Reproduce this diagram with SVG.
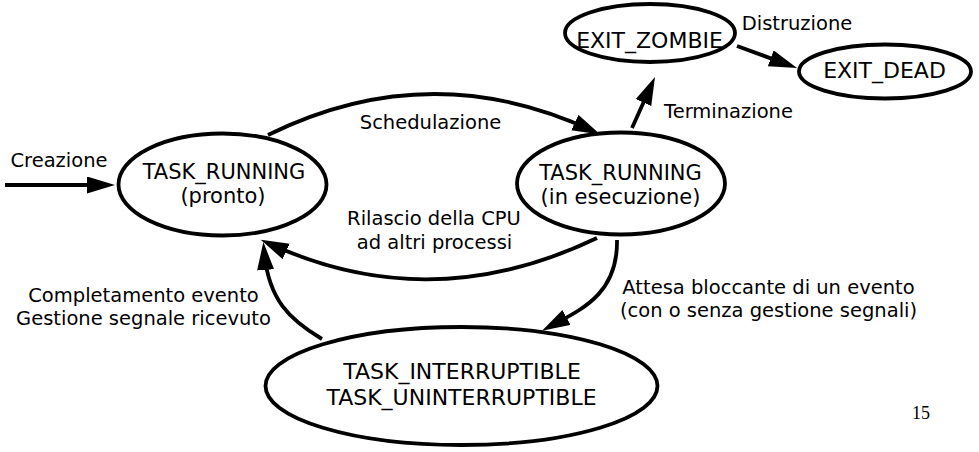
<svg xmlns="http://www.w3.org/2000/svg" width="979" height="452" viewBox="0 0 979 452">
<defs>
<marker id="ah" markerUnits="userSpaceOnUse" markerWidth="32" markerHeight="20" refX="20" refY="8.5" orient="auto">
<path d="M0,0 L28,8.5 L0,17 z" fill="#000"/>
</marker>
<style>
.node ellipse{fill:#fff;stroke:#000;stroke-width:3.8}
.nt{font-family:"DejaVu Sans",sans-serif;font-size:21px;text-anchor:middle;fill:#000}
.n1{font-size:22px}
.lb{font-family:"DejaVu Sans",sans-serif;font-size:19.5px;text-anchor:middle;fill:#000}
.edge{fill:none;stroke:#000;stroke-width:3.8;marker-end:url(#ah)}
</style>
</defs>
<rect width="979" height="452" fill="#fff"/>
<g id="connectors">
<path class="edge" d="M5,185 L107,185"/>
<path class="edge" d="M268,135 Q430,55 593,131"/>
<path class="edge" d="M597,238 Q430,318 268,243"/>
<path class="edge" d="M632,128 L651.7,84.3"/>
<path class="edge" d="M737,46 L789.5,65.2"/>
<path class="edge" d="M617,240 C618,295 580,310 549,327"/>
<path class="edge" d="M322,339 C290,320 268,300 264,250"/>
</g>
<g id="node-pronto" class="node">
<ellipse cx="222.5" cy="184.5" rx="104" ry="51"/>
<text class="nt" x="224" y="178.5">TASK_RUNNING</text>
<text class="nt" x="223" y="203">(pronto)</text>
</g>
<g id="node-esecuzione" class="node">
<ellipse cx="621" cy="183.5" rx="104" ry="51"/>
<text class="nt" x="620.5" y="179.5">TASK_RUNNING</text>
<text class="nt" x="620.5" y="204">(in esecuzione)</text>
</g>
<g id="node-zombie" class="node">
<ellipse cx="650" cy="33" rx="85" ry="29"/>
<text class="nt n1" x="649.5" y="48">EXIT_ZOMBIE</text>
</g>
<g id="node-dead" class="node">
<ellipse cx="885" cy="71.5" rx="86" ry="27"/>
<text class="nt n1" x="884.5" y="78">EXIT_DEAD</text>
</g>
<g id="node-blocked" class="node">
<ellipse cx="461.5" cy="386" rx="196" ry="59"/>
<text class="nt n1" x="462" y="379">TASK_INTERRUPTIBLE</text>
<text class="nt n1" x="461.5" y="405">TASK_UNINTERRUPTIBLE</text>
</g>
<g id="labels">
<text class="lb" x="59" y="167">Creazione</text>
<text class="lb" x="430.5" y="129">Schedulazione</text>
<text class="lb" x="728.5" y="118">Terminazione</text>
<text class="lb" x="797" y="30">Distruzione</text>
<text class="lb" x="434" y="225">Rilascio della CPU</text>
<text class="lb" x="434.5" y="249">ad altri processi</text>
<text class="lb" x="143.5" y="302">Completamento evento</text>
<text class="lb" x="143.5" y="325">Gestione segnale ricevuto</text>
<text class="lb" x="768.5" y="294">Attesa bloccante di un evento</text>
<text class="lb" x="768.5" y="317">(con o senza gestione segnali)</text>
<text x="921" y="419" font-family="'Liberation Serif',serif" font-size="18" text-anchor="middle">15</text>
</g>
</svg>
